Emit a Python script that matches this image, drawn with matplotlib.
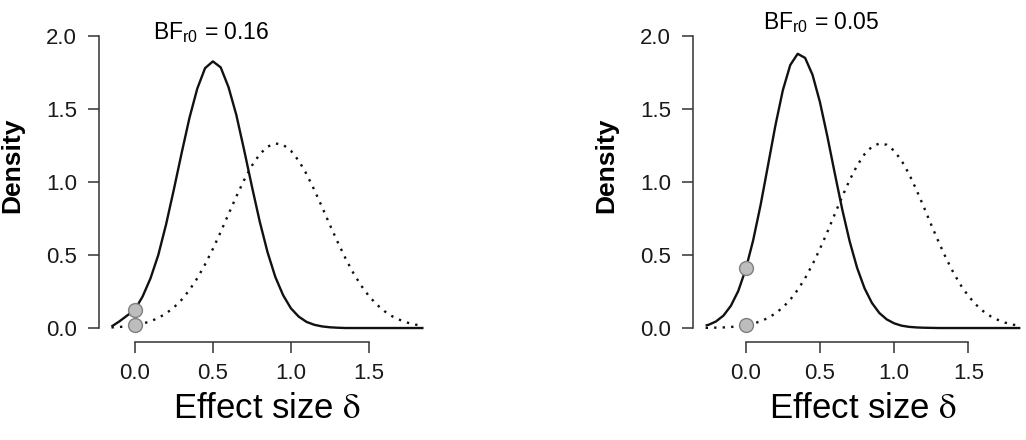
import matplotlib
matplotlib.use("Agg")
import matplotlib.pyplot as plt

plt.rcParams['font.family'] = ['Liberation Sans', 'DejaVu Sans']
plt.rcParams['mathtext.fontset'] = 'stix'

# effect size grid and densities
x_left = [-0.15, -0.10, -0.05, 0.00, 0.05, 0.10, 0.15, 0.20, 0.25, 0.30, 0.35, 0.40,
          0.45, 0.50, 0.55, 0.60, 0.65, 0.70, 0.75, 0.80, 0.85, 0.90, 0.95, 1.00,
          1.05, 1.10, 1.15, 1.20, 1.25, 1.30, 1.35, 1.40, 1.45, 1.50, 1.55, 1.60,
          1.65, 1.70, 1.75, 1.80, 1.85]
post_left = [0.010, 0.045, 0.085, 0.125, 0.217, 0.340, 0.500, 0.710, 0.950, 1.200, 1.440, 1.640,
             1.780, 1.826, 1.785, 1.650, 1.460, 1.220, 0.970, 0.730, 0.520, 0.350, 0.225, 0.135,
             0.078, 0.042, 0.022, 0.011, 0.005, 0.002, 0.0, 0.0, 0.0, 0.0, 0.0, 0.0,
             0.0, 0.0, 0.0, 0.0, 0.0]
prior_left = [0.004, 0.007, 0.012, 0.020, 0.030, 0.046, 0.069, 0.100, 0.141, 0.194, 0.261, 0.341,
              0.436, 0.542, 0.658, 0.780, 0.900, 1.013, 1.112, 1.190, 1.242, 1.264, 1.255, 1.214,
              1.146, 1.055, 0.946, 0.828, 0.706, 0.588, 0.477, 0.377, 0.291, 0.219, 0.161, 0.115,
              0.080, 0.055, 0.036, 0.023, 0.015]

x_right = [-0.27, -0.25, -0.20, -0.15, -0.10, -0.05, 0.00, 0.05, 0.10, 0.15, 0.20, 0.25,
           0.30, 0.35, 0.40, 0.45, 0.50, 0.55, 0.60, 0.65, 0.70, 0.75, 0.80, 0.85,
           0.90, 0.95, 1.00, 1.05, 1.10, 1.15, 1.20, 1.25, 1.30, 1.35, 1.40, 1.45,
           1.50, 1.55, 1.60, 1.65, 1.70, 1.75, 1.80, 1.85]
post_right = [0.017, 0.022, 0.045, 0.085, 0.152, 0.254, 0.402, 0.600, 0.841, 1.113, 1.387, 1.628,
              1.801, 1.878, 1.850, 1.734, 1.547, 1.312, 1.059, 0.813, 0.594, 0.413, 0.273, 0.172,
              0.103, 0.059, 0.032, 0.016, 0.008, 0.004, 0.002, 0.001, 0.0, 0.0, 0.0, 0.0,
              0.0, 0.0, 0.0, 0.0, 0.0, 0.0, 0.0, 0.0]
prior_right = [0.001, 0.0014, 0.0025, 0.004, 0.007, 0.012, 0.020, 0.030, 0.046, 0.069, 0.100, 0.141,
               0.194, 0.261, 0.341, 0.436, 0.542, 0.658, 0.780, 0.900, 1.013, 1.112, 1.190, 1.242,
               1.264, 1.255, 1.214, 1.146, 1.055, 0.946, 0.828, 0.706, 0.588, 0.477, 0.377, 0.291,
               0.219, 0.161, 0.115, 0.080, 0.055, 0.036, 0.023, 0.015]

# densities at delta = 0 (posterior, prior)
dots_left = [0.123, 0.020]
dots_right = [0.410, 0.020]

bf_labels = [r'BF$_{\mathregular{r0}}$ = 0.16', r'BF$_{\mathregular{r0}}$ = 0.05']
xticks = [0.0, 0.5, 1.0, 1.5]
yticks = [0.0, 0.5, 1.0, 1.5, 2.0]

W, H = 1026, 440
fig = plt.figure(figsize=(W / 100, H / 100), dpi=100)

# axes boxes in pixels: left, right, top, bottom
boxes = [(99.0, 436.0, 24.3, 339.7), (693.0, 1033.0, 24.3, 339.7)]
xlims = [(-0.23, 1.93), (-0.355, 1.935)]
panels = [(x_left, post_left, prior_left, dots_left),
          (x_right, post_right, prior_right, dots_right)]
title_pos = [(211.5, 39.0), (821.5, 29.0)]

axis_col = '#333333'
for i in range(2):
    l, r, t, b = boxes[i]
    ax = fig.add_axes([l / W, 1 - b / H, (r - l) / W, (b - t) / H])
    xs, post, prior, dots = panels[i]

    ax.plot(xs, post, color='#111111', lw=1.7, solid_capstyle='butt')
    ax.plot(xs, prior, color='#111111', lw=1.7, linestyle=(0, (1, 2.6)),
            dash_capstyle='butt')
    ax.plot([0, 0], dots, linestyle='none', marker='o', markersize=10,
            markerfacecolor='#bdbdbd', markeredgecolor='#808080',
            markeredgewidth=1.0, zorder=5)

    ax.set_xlim(*xlims[i])
    ax.set_ylim(-0.08, 2.08)
    for s in ['top', 'right']:
        ax.spines[s].set_visible(False)
    ax.spines['left'].set_bounds(0, 2)
    ax.spines['bottom'].set_bounds(0, 1.5)
    for s in ['left', 'bottom']:
        ax.spines[s].set_color(axis_col)
        ax.spines[s].set_linewidth(1.1)
    ax.spines['bottom'].set_position(('outward', 2))

    ax.set_xticks(xticks)
    ax.set_xticklabels(['%.1f' % v for v in xticks])
    ax.set_yticks(yticks)
    ax.set_yticklabels(['%.1f' % v for v in yticks])
    ax.tick_params(axis='both', length=8, width=1.1, color=axis_col,
                   labelsize=16, labelcolor='#1a1a1a')
    ax.tick_params(axis='x', pad=7)
    ax.tick_params(axis='y', pad=8)
    ax.patch.set_visible(False)

    # axis titles
    ax.text(-87.0 / (r - l), (b - 165.0) / (b - t), 'Density', rotation=90,
            fontsize=19, fontweight='bold', ha='center', va='center',
            transform=ax.transAxes)
    ax.text(0.5, (b - 418.3) / (b - t), r'Effect size $\mathrm{\delta}$', fontsize=25,
            ha='center', va='baseline', transform=ax.transAxes)

    tx, ty = title_pos[i]
    fig.text(tx / W, 1 - ty / H, bf_labels[i], fontsize=16.5, ha='center',
             va='baseline')

fig.savefig('out.png', dpi=100)
